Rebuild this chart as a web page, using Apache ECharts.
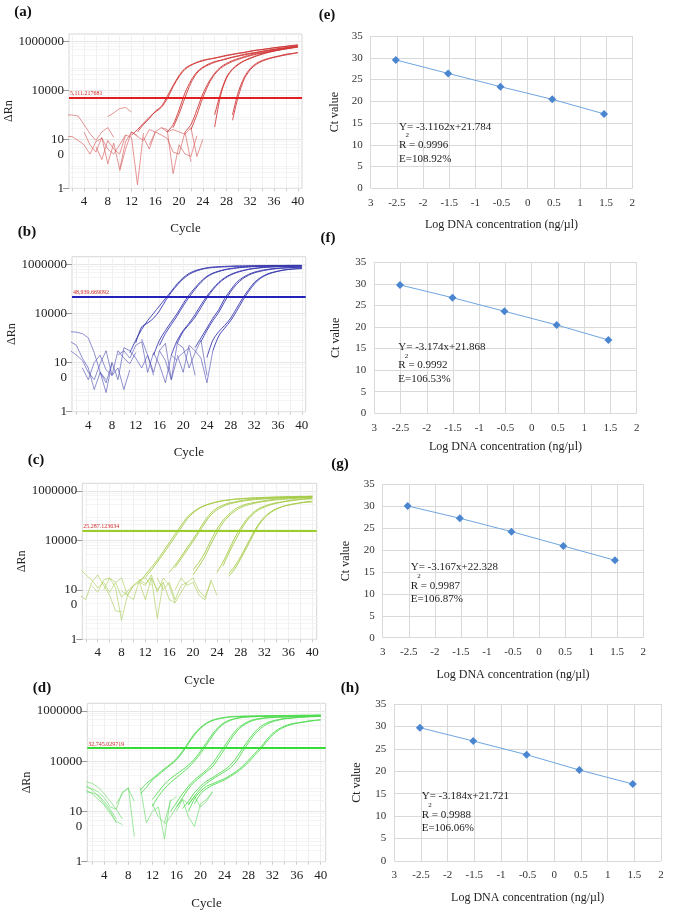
<!DOCTYPE html>
<html><head><meta charset="utf-8">
<script src="https://cdn.jsdelivr.net/npm/echarts@6/dist/echarts.min.js"></script>
<style>html,body{margin:0;padding:0;background:#fff}#c{width:685px;height:915px}</style>
</head><body><div id="c"></div><script>
// ---------- DATA ----------
const cycleTicks = [4, 8, 12, 16, 20, 24, 28, 32, 36, 40];
const cycleGrid = [2,4,6,8,10,12,14,16,18,20,22,24,26,28,30,32,34,36,38,40];
const rnTicks = [1, 100, 10000, 1000000];

// amplification curves: [startCycle, value at start, value at start+1, ...]
const curvesA = [
 [13, 200, 400, 710, 1400, 2200, 5600, 16000, 40000, 79000, 1.1e5, 1.4e5, 1.7e5, 1.9e5, 2.1e5, 2.4e5, 2.7e5, 3.0e5, 3.3e5, 3.6e5, 4.0e5, 4.4e5, 4.7e5, 5.1e5, 5.5e5, 5.9e5, 6.3e5, 6.8e5, 7.2e5],
 [12, 150, 250, 450, 800, 1300, 2000, 4500, 14000, 36000, 72000, 1.05e5, 1.35e5, 1.6e5, 1.85e5, 2.05e5, 2.3e5, 2.6e5, 2.9e5, 3.2e5, 3.5e5, 3.9e5, 4.3e5, 4.6e5, 5.0e5, 5.4e5, 5.8e5, 6.2e5, 6.6e5, 7.0e5],
 [18, 200, 400, 1600, 7900, 25000, 56000, 89000, 1.2e5, 1.5e5, 1.7e5, 2.0e5, 2.3e5, 2.6e5, 3.0e5, 3.3e5, 3.6e5, 4.0e5, 4.4e5, 4.8e5, 5.2e5, 5.6e5, 6.2e5, 6.6e5],
 [19, 300, 1100, 5000, 20000, 50000, 82000, 1.1e5, 1.4e5, 1.65e5, 1.9e5, 2.2e5, 2.5e5, 2.8e5, 3.1e5, 3.4e5, 3.8e5, 4.2e5, 4.6e5, 5.0e5, 5.4e5, 5.8e5, 6.2e5],
 [21, 200, 400, 1600, 7100, 22000, 50000, 89000, 1.26e5, 1.66e5, 2.0e5, 2.4e5, 2.8e5, 3.2e5, 3.5e5, 4.0e5, 4.4e5, 4.8e5, 5.2e5, 5.8e5, 6.2e5],
 [22, 250, 1000, 5000, 18000, 45000, 80000, 1.15e5, 1.5e5, 1.85e5, 2.2e5, 2.6e5, 3.0e5, 3.3e5, 3.7e5, 4.1e5, 4.5e5, 4.9e5, 5.3e5, 5.8e5],
 [26, 320, 6300, 32000, 71000, 1.12e5, 1.6e5, 2.0e5, 2.5e5, 3.0e5, 3.5e5, 4.0e5, 4.5e5, 5.0e5, 5.5e5, 6.0e5],
 [26, 1000, 7900, 35000, 76000, 1.2e5, 1.65e5, 2.1e5, 2.6e5, 3.1e5, 3.6e5, 4.1e5, 4.6e5, 5.1e5, 5.6e5, 6.1e5],
 [29, 1000, 8900, 35000, 79000, 1.26e5, 1.66e5, 2.0e5, 2.3e5, 2.6e5, 3.0e5, 3.2e5, 3.5e5],
 [29, 600, 6000, 30000, 70000, 1.15e5, 1.55e5, 1.9e5, 2.2e5, 2.5e5, 2.8e5, 3.1e5, 3.4e5]
];
const noiseA = [
 [1, 1000, 980, 900, 400, 170, 90, 200, 300, 120],
 [1, 130, 130, 90, 60, 25, 80, 110, 40, 25, 60, 150],
 [4, 200, 60, 30, 120, 10, 70, 6, 80, 200, 140],
 [8, 850, 1200, 1800, 2000, 1300],
 [6, 50, 15, 90, 40, 25, 150, 120, 1.4, 180],
 [10, 5, 40, 200, 130, 90, 250, 200],
 [14, 120, 40, 200, 300, 250, 4, 60, 25, 20, 140],
 [15, 60, 200, 150, 110, 30, 25, 200, 12],
 [17, 300, 200, 250, 200, 160, 300, 20, 100]
];
const curvesB = [
 [11, 250, 800, 2200, 5000, 10000, 20000, 40000, 79000, 1.6e5, 2.8e5, 4.2e5, 5.4e5, 6.3e5, 7.1e5, 7.6e5, 7.9e5, 8.1e5, 8.3e5, 8.5e5, 8.5e5, 8.6e5, 8.7e5, 8.7e5, 8.7e5, 8.8e5, 8.8e5, 8.8e5, 8.9e5, 8.9e5, 8.9e5],
 [12, 630, 2800, 4000, 6300, 12600, 32000, 71000, 1.4e5, 2.5e5, 3.8e5, 5.0e5, 6.0e5, 6.8e5, 7.2e5, 7.5e5, 7.7e5, 7.9e5, 8.0e5, 8.1e5, 8.2e5, 8.3e5, 8.3e5, 8.4e5, 8.4e5, 8.5e5, 8.5e5, 8.5e5, 8.6e5, 8.6e5],
 [15, 200, 800, 2000, 4500, 10000, 25000, 56000, 1.1e5, 2.0e5, 3.2e5, 4.3e5, 5.2e5, 6.0e5, 6.6e5, 7.1e5, 7.6e5, 7.9e5, 8.1e5, 8.3e5, 8.4e5, 8.5e5, 8.5e5, 8.6e5, 8.6e5, 8.7e5, 8.7e5],
 [16, 500, 1500, 3500, 8000, 20000, 45000, 95000, 1.8e5, 3.0e5, 4.1e5, 5.0e5, 5.8e5, 6.4e5, 6.9e5, 7.3e5, 7.6e5, 7.9e5, 8.1e5, 8.2e5, 8.3e5, 8.4e5, 8.4e5, 8.5e5, 8.5e5, 8.6e5],
 [18, 200, 800, 2000, 4000, 8900, 22000, 50000, 1.0e5, 1.8e5, 2.8e5, 3.8e5, 4.7e5, 5.5e5, 6.2e5, 6.8e5, 7.2e5, 7.6e5, 7.8e5, 8.0e5, 8.1e5, 8.2e5, 8.3e5, 8.3e5],
 [19, 600, 1800, 3500, 7000, 17000, 42000, 90000, 1.65e5, 2.6e5, 3.6e5, 4.5e5, 5.3e5, 6.0e5, 6.6e5, 7.0e5, 7.4e5, 7.6e5, 7.8e5, 7.9e5, 8.0e5, 8.1e5, 8.1e5],
 [22, 400, 1000, 2500, 6300, 14000, 40000, 89000, 1.8e5, 2.8e5, 3.8e5, 4.7e5, 5.4e5, 6.0e5, 6.5e5, 6.8e5, 7.1e5, 7.2e5, 7.4e5, 7.4e5],
 [23, 700, 2000, 5000, 11000, 30000, 75000, 1.5e5, 2.5e5, 3.5e5, 4.4e5, 5.1e5, 5.7e5, 6.2e5, 6.6e5, 6.9e5, 7.1e5, 7.3e5, 7.4e5],
 [24, 160, 800, 1800, 3200, 6300, 16000, 40000, 89000, 1.8e5, 2.8e5, 3.8e5, 4.6e5, 5.2e5, 5.8e5, 6.2e5, 6.5e5, 6.6e5],
 [25, 300, 1200, 2500, 5000, 12000, 32000, 75000, 1.55e5, 2.6e5, 3.6e5, 4.4e5, 5.1e5, 5.7e5, 6.1e5, 6.4e5, 6.6e5]
];
const noiseB = [
 [1, 1800, 1700, 1500, 1000, 250, 40, 20],
 [1, 700, 500, 150, 60, 8, 40, 15, 100],
 [1, 300, 200, 120, 40, 20, 90, 300, 30, 60, 8, 50],
 [3, 60, 20, 100, 200, 50, 30, 300, 150, 90, 250],
 [6, 40, 6, 100, 20, 400, 300, 150, 60, 200, 30],
 [9, 200, 300, 150, 500, 700, 40, 250, 80, 15, 200, 120],
 [13, 900, 200, 40, 300, 600, 20, 150, 250, 400, 30],
 [16, 300, 120, 20, 600, 400, 60, 250, 800, 30],
 [19, 200, 40, 500, 300, 150, 15, 300]
];
const curvesC = [
 [12, 320, 630, 1300, 2800, 6300, 14000, 32000, 71000, 1.26e5, 1.9e5, 2.5e5, 3.0e5, 3.5e5, 3.9e5, 4.2e5, 4.5e5, 4.7e5, 4.9e5, 5.0e5, 5.1e5, 5.2e5, 5.4e5, 5.5e5, 5.6e5, 5.6e5, 5.8e5, 5.9e5, 5.9e5, 6.0e5],
 [11, 200, 400, 800, 1600, 3500, 8000, 18000, 40000, 85000, 1.4e5, 2.0e5, 2.6e5, 3.1e5, 3.6e5, 4.0e5, 4.3e5, 4.6e5, 4.8e5, 5.0e5, 5.2e5, 5.3e5, 5.4e5, 5.5e5, 5.6e5, 5.7e5, 5.8e5, 5.8e5, 5.9e5, 5.9e5, 6.0e5],
 [16, 500, 1000, 2200, 5000, 11000, 26000, 63000, 1.26e5, 2.0e5, 2.6e5, 3.2e5, 3.5e5, 4.0e5, 4.3e5, 4.6e5, 4.8e5, 5.0e5, 5.1e5, 5.2e5, 5.4e5, 5.5e5, 5.6e5, 5.6e5, 5.8e5, 5.8e5],
 [17, 800, 1800, 4000, 9000, 21000, 50000, 1.05e5, 1.7e5, 2.3e5, 2.9e5, 3.3e5, 3.7e5, 4.0e5, 4.3e5, 4.5e5, 4.7e5, 4.9e5, 5.0e5, 5.2e5, 5.3e5, 5.4e5, 5.5e5, 5.6e5, 5.6e5],
 [20, 630, 1300, 3200, 10000, 28000, 63000, 1.1e5, 1.8e5, 2.4e5, 2.9e5, 3.3e5, 3.6e5, 4.0e5, 4.3e5, 4.6e5, 4.8e5, 5.0e5, 5.2e5, 5.4e5, 5.5e5, 5.6e5],
 [20, 400, 900, 2200, 7000, 20000, 50000, 95000, 1.5e5, 2.1e5, 2.6e5, 3.0e5, 3.4e5, 3.7e5, 4.0e5, 4.3e5, 4.5e5, 4.7e5, 4.9e5, 5.1e5, 5.2e5, 5.3e5],
 [24, 500, 1300, 4000, 12600, 32000, 71000, 1.26e5, 1.9e5, 2.4e5, 2.9e5, 3.3e5, 3.6e5, 4.0e5, 4.3e5, 4.6e5, 4.8e5, 5.0e5],
 [25, 900, 3000, 9000, 25000, 60000, 1.1e5, 1.7e5, 2.2e5, 2.7e5, 3.1e5, 3.5e5, 3.8e5, 4.1e5, 4.4e5, 4.6e5, 4.8e5],
 [26, 450, 900, 2200, 6300, 18000, 45000, 89000, 1.4e5, 1.9e5, 2.3e5, 2.6e5, 2.9e5, 3.2e5, 3.4e5, 3.5e5],
 [26, 350, 700, 1800, 5000, 15000, 40000, 80000, 1.3e5, 1.8e5, 2.3e5, 2.7e5, 3.0e5, 3.3e5, 3.6e5, 3.8e5]
];
const noiseC = [
 [1, 60, 40, 200, 400, 150, 60, 14, 13],
 [1, 700, 400, 250, 120, 200, 80, 200, 300, 60, 150],
 [3, 150, 80, 250, 300, 120, 6, 60, 40, 250, 300, 150],
 [5, 100, 300, 200, 50, 90, 150, 200, 40, 300, 7, 200],
 [8, 90, 60, 150, 250, 180, 300, 100, 200, 40, 30],
 [11, 200, 150, 400, 80, 300, 150, 30, 80, 200],
 [14, 300, 100, 200, 40, 150, 200, 300, 90, 50, 200],
 [17, 100, 300, 150, 200, 60, 40, 250, 60]
];
const curvesD = [
 [10, 700, 1300, 2000, 3200, 5000, 7600, 12600, 25000, 56000, 1.26e5, 2.2e5, 3.3e5, 4.3e5, 5.0e5, 5.5e5, 5.9e5, 6.0e5, 6.2e5, 6.2e5, 6.3e5, 6.3e5, 6.4e5, 6.4e5, 6.5e5, 6.5e5, 6.6e5, 6.6e5, 6.7e5, 6.7e5, 6.7e5, 6.8e5],
 [10, 500, 900, 1800, 2800, 4500, 7000, 11000, 22000, 50000, 1.1e5, 2.0e5, 3.1e5, 4.1e5, 4.8e5, 5.3e5, 5.7e5, 5.9e5, 6.0e5, 6.1e5, 6.2e5, 6.3e5, 6.3e5, 6.4e5, 6.4e5, 6.5e5, 6.5e5, 6.6e5, 6.6e5, 6.6e5, 6.7e5, 6.7e5],
 [12, 160, 400, 800, 1400, 2200, 3500, 5600, 10000, 20000, 45000, 1.0e5, 2.0e5, 3.2e5, 4.2e5, 5.0e5, 5.5e5, 5.8e5, 5.9e5, 6.0e5, 6.1e5, 6.2e5, 6.3e5, 6.3e5, 6.4e5, 6.4e5, 6.5e5, 6.5e5, 6.6e5, 6.6e5],
 [12, 300, 600, 1200, 2000, 3000, 4500, 7000, 12000, 25000, 55000, 1.2e5, 2.3e5, 3.5e5, 4.4e5, 5.1e5, 5.5e5, 5.8e5, 5.9e5, 6.0e5, 6.1e5, 6.2e5, 6.2e5, 6.3e5, 6.3e5, 6.4e5, 6.4e5, 6.5e5, 6.5e5, 6.5e5],
 [15, 100, 220, 500, 1000, 1800, 2800, 4500, 7900, 18000, 40000, 89000, 1.8e5, 2.8e5, 3.8e5, 4.6e5, 5.0e5, 5.4e5, 5.6e5, 5.7e5, 5.8e5, 5.9e5, 6.0e5, 6.1e5, 6.2e5, 6.3e5, 6.4e5],
 [16, 150, 350, 800, 1500, 2400, 3800, 6000, 13000, 30000, 70000, 1.5e5, 2.5e5, 3.5e5, 4.3e5, 4.8e5, 5.2e5, 5.4e5, 5.6e5, 5.7e5, 5.8e5, 5.9e5, 6.0e5, 6.1e5, 6.2e5, 6.2e5],
 [17, 130, 250, 560, 1000, 1600, 2200, 3200, 4500, 7100, 14000, 32000, 71000, 1.4e5, 2.4e5, 3.3e5, 4.0e5, 4.5e5, 5.0e5, 5.2e5, 5.5e5, 5.6e5, 5.9e5, 6.0e5, 6.2e5],
 [18, 180, 400, 800, 1300, 1900, 2700, 3800, 5500, 10000, 24000, 55000, 1.15e5, 2.0e5, 2.9e5, 3.7e5, 4.3e5, 4.8e5, 5.1e5, 5.4e5, 5.6e5, 5.8e5, 5.9e5, 6.0e5],
 [18, 100, 320, 630, 1000, 1260, 1600, 2000, 2800, 4000, 6300, 11000, 20000, 35000, 71000, 1.26e5, 1.9e5, 2.5e5, 3.0e5, 3.3e5, 3.6e5, 4.0e5, 4.2e5, 4.5e5],
 [19, 200, 500, 800, 1100, 1400, 1800, 2500, 3500, 5500, 9000, 17000, 30000, 60000, 1.1e5, 1.7e5, 2.3e5, 2.8e5, 3.2e5, 3.5e5, 3.8e5, 4.1e5, 4.3e5]
];
const noiseD = [
 [1, 1500, 1300, 900, 500, 250, 120, 50],
 [1, 900, 800, 600, 350, 150, 120, 600, 800, 250],
 [1, 700, 500, 300, 180, 80, 40, 30],
 [1, 1100, 700, 400, 200, 100, 35],
 [1, 600, 550, 450, 250, 120, 50],
 [6, 200, 500, 900, 10],
 [10, 900, 35, 100, 150, 8, 300],
 [12, 200, 60, 35, 250, 400],
 [14, 30, 60, 150, 300, 60, 25, 200, 300, 600],
 [16, 100, 300, 200, 400, 150, 250, 600]
];

const thresholds = [5111.217681, 48939.669092, 25287.123634, 32745.029719];
const thresholdTexts = ['5,111.217681', '48,939.669092', '25,287.123634', '32,745.029719'];

// standard curves
const logConcE = [-2.52, -1.52, -0.52, 0.47, 1.46];
const ctE = [29.5, 26.4, 23.35, 20.45, 17.1];
const logConcF = [-2.51, -1.51, -0.52, 0.475, 1.46];
const ctF = [29.75, 26.8, 23.65, 20.48, 17.0];
const logConcG = [-2.52, -1.52, -0.53, 0.465, 1.456];
const ctG = [30.06, 27.25, 24.2, 20.93, 17.66];
const logConcH = [-2.52, -1.52, -0.52, 0.47, 1.47];
const ctH = [29.72, 26.75, 23.7, 20.28, 17.16];
const eqE = ['Y= -3.1162x+21.784', 'R = 0.9996', 'E=108.92%'];
const eqF = ['Y= -3.174x+21.868', 'R = 0.9992', 'E=106.53%'];
const eqG = ['Y= -3.167x+22.328', 'R = 0.9987', 'E=106.87%'];
const eqH = ['Y= -3.184x+21.721', 'R = 0.9988', 'E=106.06%'];
const panelLetters = ['(a)', '(b)', '(c)', '(d)', '(e)', '(f)', '(g)', '(h)'];

// ---------- LAYOUT / STYLE ----------
const SERIF = '"Liberation Serif", "Times New Roman", serif';
const ampLayout = [
  {grid:{left:69, top:34, width:233, height:154.3}, xr:[1.47, 40.7], ngx:34, ngy:53, col:'rgba(210,55,55,0.9)', ncol:'rgba(215,90,90,0.8)', tcol:'#e41e1e'},
  {grid:{left:72, top:256.7, width:233.7, height:155}, xr:[1.25, 40.66], ngx:34, ngy:51, col:'rgba(55,55,175,0.9)', ncol:'rgba(80,80,180,0.8)', tcol:'#2222b8'},
  {grid:{left:82.3, top:483.3, width:234.4, height:156}, xr:[1.42, 40.74], ngx:35, ngy:51, col:'rgba(165,203,70,0.9)', ncol:'rgba(170,205,90,0.8)', tcol:'#9cce2a'},
  {grid:{left:87.3, top:703.3, width:238.4, height:158.4}, xr:[1.17, 40.83], ngx:35, ngy:51, col:'rgba(80,218,80,0.9)', ncol:'rgba(100,218,100,0.8)', tcol:'#35dc35'}
];
const stdLayout = [
  {grid:{left:370.7, top:36, width:261.6, height:152.3}, ngx:31, ngy:30, eqLeft:399, eqY:[127.3, 135, 145, 159.3]},
  {grid:{left:374.3, top:262.3, width:262.4, height:151}, ngx:28, ngy:32, eqLeft:398.3, eqY:[346.7, 355.7, 365, 379]},
  {grid:{left:382.7, top:484.3, width:260.6, height:153.4}, ngx:31, ngy:31, eqLeft:410.7, eqY:[567.3, 576, 586, 599]},
  {grid:{left:394.3, top:704, width:266.7, height:157}, ngx:31, ngy:31, eqLeft:421.7, eqY:[795.7, 804.7, 814.7, 827.7]}
];
const letterPos = [[23,12],[27,232],[36,460],[42,688],[327,15],[328,238],[340,464],[350,688]];

const ampCurves = [curvesA, curvesB, curvesC, curvesD];
const ampNoise = [noiseA, noiseB, noiseC, noiseD];
const stdX = [logConcE, logConcF, logConcG, logConcH];
const stdY = [ctE, ctF, ctG, ctH];
const eqs = [eqE, eqF, eqG, eqH];

function toPairs(arr) { const s = arr[0]; return arr.slice(1).map((v, i) => [s + i, v]); }

const grid = [], xAxis = [], yAxis = [], series = [], graphic = [];

ampLayout.forEach((L, i) => {
  grid.push(Object.assign({show:true, borderColor:'#d6d6d6', borderWidth:1, backgroundColor:'#fff'}, L.grid));
  xAxis.push({gridIndex:i, type:'value', min:L.xr[0], max:L.xr[1],
    name:'Cycle', nameLocation:'middle', nameGap:L.ngx,
    nameTextStyle:{fontSize:13, color:'#222', fontFamily:SERIF},
    axisLine:{show:false},
    axisTick:{show:true, customValues:cycleGrid, length:3, lineStyle:{color:'#cccccc'}},
    axisLabel:{customValues:cycleTicks, fontSize:13, color:'#222', margin:7, fontFamily:SERIF},
    splitLine:{show:true, lineStyle:{color:'#f0f0f0', width:1}}});
  yAxis.push({gridIndex:i, type:'log', logBase:10, min:1, max:2000000,
    name:'ΔRn', nameLocation:'middle', nameGap:L.ngy,
    nameTextStyle:{fontSize:12, color:'#222', fontFamily:SERIF},
    axisLine:{show:false},
    axisTick:{show:true, customValues:rnTicks, length:6, lineStyle:{color:'#9a9a9a'}},
    axisLabel:{customValues:rnTicks, fontSize:13, color:'#222', margin:5, lineHeight:15, fontFamily:SERIF,
      formatter: v => (Math.round(v) === 100 ? '\n10\n0' : String(Math.round(v)))},
    splitLine:{show:true, lineStyle:{color:'#e6e6e6'}},
    minorTick:{show:false, splitNumber:5},
    minorSplitLine:{show:true, lineStyle:{color:'#f4f4f4'}}});
  ampNoise[i].forEach(n => series.push({type:'line', xAxisIndex:i, yAxisIndex:i, data:toPairs(n),
    symbol:'none', silent:true, animation:false, lineStyle:{color:L.ncol, width:0.8}}));
  ampCurves[i].forEach((c, k) => {
    const s = {type:'line', xAxisIndex:i, yAxisIndex:i, data:toPairs(c), symbol:'none', silent:true,
      animation:false, smooth:0.3, lineStyle:{color:L.col, width:1}};
    if (k === 0) {
      s.markLine = {symbol:'none', silent:true, animation:false, z:10,
        data:[{yAxis: thresholds[i]}],
        lineStyle:{color:L.tcol, width:2, type:'solid'},
        label:{show:true, position:'insideStartTop', formatter: thresholdTexts[i],
          color:'#d42a2a', fontSize:6, distance:[1, 1], fontFamily:SERIF}};
    }
    series.push(s);
  });
});

stdLayout.forEach((L, j) => {
  const i = j + 4;
  grid.push(Object.assign({show:false}, L.grid));
  xAxis.push({gridIndex:i, type:'value', min:-3, max:2, interval:0.5,
    name:'Log DNA concentration (ng/µl)', nameLocation:'middle', nameGap:L.ngx,
    nameTextStyle:{fontSize:12, color:'#222', fontFamily:SERIF},
    axisLine:{show:false}, axisTick:{show:false},
    axisLabel:{fontSize:11, color:'#333', margin:9, fontFamily:SERIF,
      formatter: v => (v === -3 ? '3' : String(v))},
    splitLine:{show:true, lineStyle:{color:'#d9d9d9'}}});
  yAxis.push({gridIndex:i, type:'value', min:0, max:35, interval:5,
    name:'Ct value', nameLocation:'middle', nameGap:L.ngy,
    nameTextStyle:{fontSize:12, color:'#222', fontFamily:SERIF},
    axisLine:{show:false}, axisTick:{show:false},
    axisLabel:{fontSize:11, color:'#333', margin:8, fontFamily:SERIF},
    splitLine:{show:true, lineStyle:{color:'#d9d9d9'}}});
  series.push({type:'line', xAxisIndex:i, yAxisIndex:i, animation:false, silent:true,
    data: stdX[j].map((x, k) => [x, stdY[j][k]]),
    symbol:'diamond', symbolSize:8, itemStyle:{color:'#4a86d0'},
    lineStyle:{color:'#6fa6de', width:1}});
  const e = eqs[j];
  const lines = [[e[0], L.eqLeft, L.eqY[0], 11], ['2', L.eqLeft + 6.5, L.eqY[1], 7], [e[1], L.eqLeft, L.eqY[2], 11], [e[2], L.eqLeft, L.eqY[3], 11]];
  lines.forEach(t => graphic.push({type:'text', silent:true, z:100,
    style:{text:t[0], x:t[1], y:t[2], font:t[3] + 'px ' + SERIF, fill:'#222',
      align:'left', verticalAlign:'middle', textAlign:'left', textVerticalAlign:'middle'}}));
});

panelLetters.forEach((p, k) => graphic.push({type:'text', silent:true, z:100,
  style:{text:p, x:letterPos[k][0], y:letterPos[k][1], font:'bold 15px ' + SERIF, fill:'#111',
    align:'center', verticalAlign:'middle', textAlign:'center', textVerticalAlign:'middle'}}));

const chart = echarts.init(document.getElementById('c'), null, {renderer:'canvas'});
chart.setOption({animation:false, backgroundColor:'#fff', textStyle:{fontFamily:SERIF},
  grid, xAxis, yAxis, series, graphic});
</script></body></html>
